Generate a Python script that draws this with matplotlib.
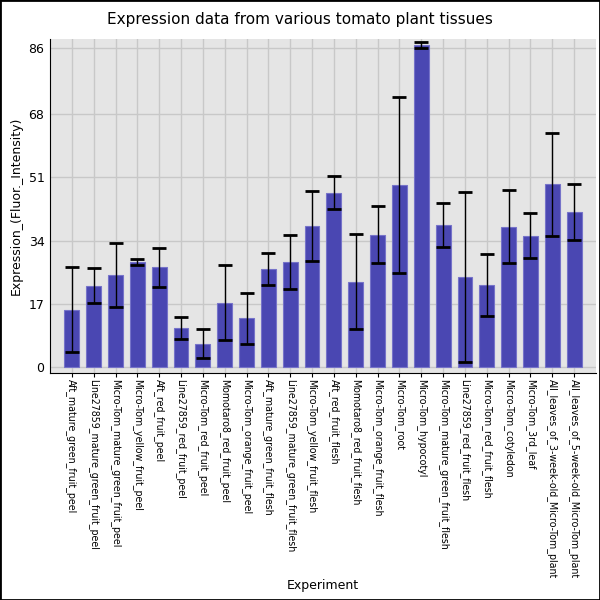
import matplotlib
matplotlib.use("Agg")
import matplotlib.pyplot as plt
from matplotlib.patches import Rectangle

experiments = [
    "Aft_mature_green_fruit_peel",
    "Line27859_mature_green_fruit_peel",
    "Micro-Tom_mature_green_fruit_peel",
    "Micro-Tom_yellow_fruit_peel",
    "Aft_red_fruit_peel",
    "Line27859_red_fruit_peel",
    "Micro-Tom_red_fruit_peel",
    "Momotaro8_red_fruit_peel",
    "Micro-Tom_orange_fruit_peel",
    "Aft_mature_green_fruit_flesh",
    "Line27859_mature_green_fruit_flesh",
    "Micro-Tom_yellow_fruit_flesh",
    "Aft_red_fruit_flesh",
    "Momotaro8_red_fruit_flesh",
    "Micro-Tom_orange_fruit_flesh",
    "Micro-Tom_root",
    "Micro-Tom_hypocotyl",
    "Micro-Tom_mature_green_fruit_flesh",
    "Line27859_red_fruit_flesh",
    "Micro-Tom_red_fruit_flesh",
    "Micro-Tom_cotyledon",
    "Micro-Tom_3rd_leaf",
    "All_leaves_of_3-week-old_Micro-Tom_plant",
    "All_leaves_of_5-week-old_Micro-Tom_plant",
]
expression = [15.4, 21.8, 24.6, 28.1, 26.8, 10.5, 6.2, 17.3, 13.0, 26.4, 28.3,
              38.0, 46.9, 22.9, 35.6, 49.0, 86.8, 38.2, 24.2, 22.1, 37.7, 35.3,
              49.1, 41.7]
error = [11.5, 4.7, 8.6, 0.8, 5.2, 3.0, 3.9, 10.2, 6.8, 4.3, 7.3,
         9.4, 4.4, 12.8, 7.6, 23.8, 0.8, 6.0, 23.0, 8.4, 9.8, 6.1,
         13.9, 7.6]
yticks = [0, 17, 34, 51, 68, 86]

fig = plt.figure(figsize=(6, 6), dpi=100)
ax = fig.add_axes([0.0833, 0.3783, 0.91, 0.5567])
ax.set_facecolor("#e5e5e5")

x = list(range(len(experiments)))
ax.bar(x, expression, width=0.68, color="#4a47b2", edgecolor="#7673c9",
       linewidth=0.8, zorder=3)
ax.errorbar(x, expression, yerr=error, fmt="none", ecolor="black",
            elinewidth=1, capsize=5, capthick=2, zorder=4)

ax.set_xlim(-1, 24)
ax.set_ylim(-1.7, 88.3)
ax.set_yticks(yticks)
ax.set_yticklabels([str(t) for t in yticks], fontsize=9)
ax.set_xticks(x)
ax.set_xticklabels(experiments, rotation=270, fontsize=6.85)
ax.tick_params(axis="x", length=3, pad=1.5)
ax.tick_params(axis="y", length=0, pad=4)
ax.grid(True, color="#c8c8c8", linewidth=1, zorder=0)
ax.set_axisbelow(True)
for side in ["top", "right"]:
    ax.spines[side].set_visible(False)

ax.set_ylabel("Expression_(Fluor._Intensity)", fontsize=9)
ax.yaxis.set_label_coords(-0.05, 0.5)
ax.set_xlabel("Experiment", fontsize=9)
ax.xaxis.set_label_coords(0.5, -0.618)
fig.suptitle("Expression data from various tomato plant tissues",
             fontsize=11, y=0.98)

fig.patches.append(Rectangle((0, 0), 1, 1, transform=fig.transFigure,
                             fill=False, edgecolor="black", linewidth=2))

fig.savefig("out.png", dpi=100)
